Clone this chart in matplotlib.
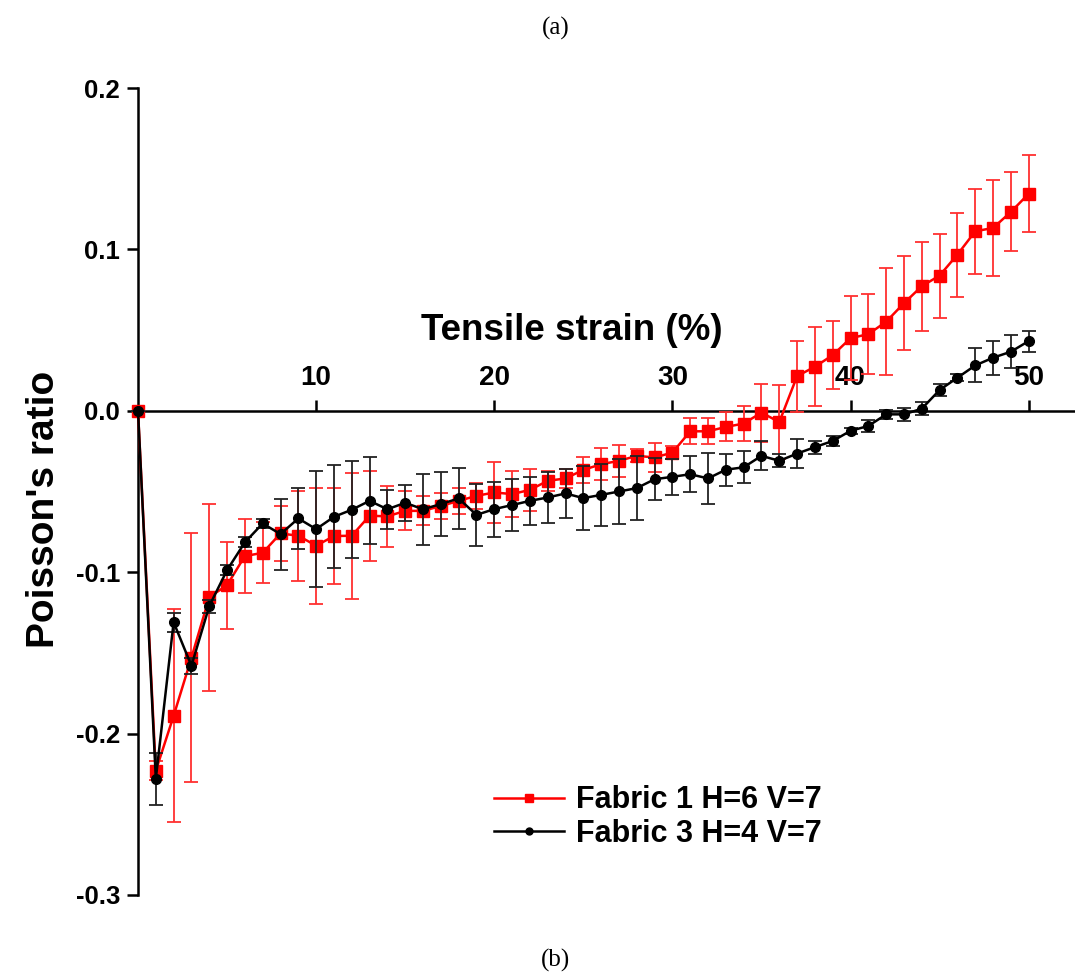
import matplotlib
matplotlib.use("Agg")
import matplotlib.pyplot as plt
from matplotlib.lines import Line2D

# ---------------- data ----------------
strain = list(range(0, 51))

fabric1 = [0.0, -0.223, -0.189, -0.153, -0.1155, -0.108, -0.090, -0.088, -0.076, -0.0774,
           -0.0836, -0.0776, -0.0774, -0.065, -0.0654, -0.062, -0.062, -0.059, -0.0558, -0.0527,
           -0.0506, -0.0516, -0.049, -0.0434, -0.0419, -0.0366, -0.0331, -0.031, -0.0279, -0.0289,
           -0.0259, -0.0127, -0.0127, -0.0100, -0.0079, -0.0011, -0.0070, 0.0215, 0.0273, 0.0345,
           0.0450, 0.0475, 0.0552, 0.0667, 0.0772, 0.0838, 0.0968, 0.1112, 0.1133, 0.1232, 0.1345]
fabric1_err = [0.0, 0.006, 0.066, 0.077, 0.058, 0.027, 0.023, 0.019, 0.017, 0.028,
               0.036, 0.030, 0.039, 0.028, 0.019, 0.012, 0.009, 0.008, 0.008, 0.008,
               0.019, 0.014, 0.013, 0.006, 0.006, 0.008, 0.010, 0.010, 0.004, 0.009,
               0.004, 0.008, 0.008, 0.009, 0.011, 0.018, 0.023, 0.022, 0.0245, 0.021,
               0.026, 0.025, 0.033, 0.029, 0.0275, 0.026, 0.026, 0.0265, 0.030, 0.0245, 0.024]

fabric3 = [0.0, -0.228, -0.131, -0.158, -0.121, -0.0987, -0.0815, -0.0698, -0.0764, -0.0667,
           -0.0733, -0.0657, -0.0613, -0.0558, -0.061, -0.057, -0.061, -0.0578, -0.0543, -0.0645,
           -0.0609, -0.0584, -0.0558, -0.0537, -0.0512, -0.0541, -0.0521, -0.050, -0.0479, -0.0424,
           -0.0409, -0.0393, -0.0419, -0.0365, -0.0350, -0.0279, -0.031, -0.0265, -0.0225, -0.0187,
           -0.0124, -0.0094, -0.0022, -0.0022, 0.0013, 0.0129, 0.0205, 0.0281, 0.0329, 0.0366, 0.0432]
fabric3_err = [0.0, 0.016, 0.006, 0.005, 0.004, 0.003, 0.003, 0.003, 0.022, 0.019,
               0.036, 0.032, 0.030, 0.027, 0.012, 0.011, 0.022, 0.020, 0.019, 0.019,
               0.017, 0.016, 0.015, 0.016, 0.015, 0.020, 0.019, 0.020, 0.020, 0.013,
               0.011, 0.011, 0.016, 0.010, 0.010, 0.009, 0.004, 0.009, 0.004, 0.003,
               0.002, 0.004, 0.003, 0.004, 0.004, 0.004, 0.002, 0.0105, 0.0105, 0.0103, 0.0065]

labels = ["Fabric 1 H=6 V=7", "Fabric 3 H=4 V=7"]
xticks = [10, 20, 30, 40, 50]
yticks = [-0.3, -0.2, -0.1, 0.0, 0.1, 0.2]
ytick_labels = ["-0.3", "-0.2", "-0.1", "0.0", "0.1", "0.2"]

# ---------------- figure ----------------
plt.rcParams['font.family'] = ['Liberation Sans', 'DejaVu Sans']
plt.rcParams['font.weight'] = 'bold'

fig = plt.figure(figsize=(10.75, 9.76), dpi=100)
ax = fig.add_axes([138 / 1075, 81 / 976, 937 / 1075, 807 / 976])

ax.errorbar(strain, fabric1, yerr=fabric1_err, fmt='-s', color='#ff0000', lw=1.8,
            ms=8, ecolor='#ff3030', elinewidth=1.3, capsize=5, capthick=1.3,
            zorder=3, clip_on=False)
ax.errorbar(strain, fabric3, yerr=fabric3_err, fmt='-o', color='black', lw=1.8,
            ms=7, ecolor='#222222', elinewidth=1.3, capsize=5, capthick=1.3,
            zorder=4, clip_on=False)

ax.set_xlim(0, 52.6)
ax.set_ylim(-0.3, 0.2)

for s in ['bottom', 'right']:
    ax.spines[s].set_visible(False)
ax.spines['top'].set_position(('data', 0))
ax.spines['top'].set_linewidth(1.8)
ax.spines['left'].set_linewidth(1.8)

ax.xaxis.set_ticks_position('top')
ax.set_xticks(xticks)
ax.set_xticklabels([str(t) for t in xticks])
ax.tick_params(axis='x', direction='out', length=8, width=1.8, pad=6, labelsize=20)
for t in ax.get_xticklabels():
    t.set_fontweight('bold')

ax.set_yticks(yticks)
ax.set_yticklabels(ytick_labels)
ax.tick_params(axis='y', direction='out', length=8, width=1.8, pad=5, labelsize=18.5)
for t in ax.get_yticklabels():
    t.set_fontweight('bold')

fig.text(572 / 1075, 1 - 340 / 976, "Tensile strain (%)", ha='center', va='baseline',
         fontsize=26.5, fontweight='bold')
fig.text(44 / 1075, 1 - 509 / 976, "Poisson's ratio", ha='center', va='center',
         rotation=90, fontsize=28, fontweight='bold')

fig.text(556 / 1075, 1 - 28 / 976, "(a)", ha='center', va='center', fontsize=18,
         family=['Liberation Serif', 'DejaVu Serif'], fontweight='normal')
fig.text(556 / 1075, 1 - 960 / 976, "(b)", ha='center', va='center', fontsize=18,
         family=['Liberation Serif', 'DejaVu Serif'], fontweight='normal')

handles = [Line2D([], [], color='#ff0000', lw=1.8, marker='s', ms=6),
           Line2D([], [], color='black', lw=1.8, marker='o', ms=5)]
leg = ax.legend(handles, labels, loc='upper left', bbox_to_anchor=(466 / 1075, 1 - 758 / 976),
                bbox_transform=fig.transFigure, frameon=False, fontsize=22,
                handlelength=2.3, handletextpad=0.4, labelspacing=0.1)
for t in leg.get_texts():
    t.set_fontweight('bold')

fig.savefig("out.png", dpi=100)
